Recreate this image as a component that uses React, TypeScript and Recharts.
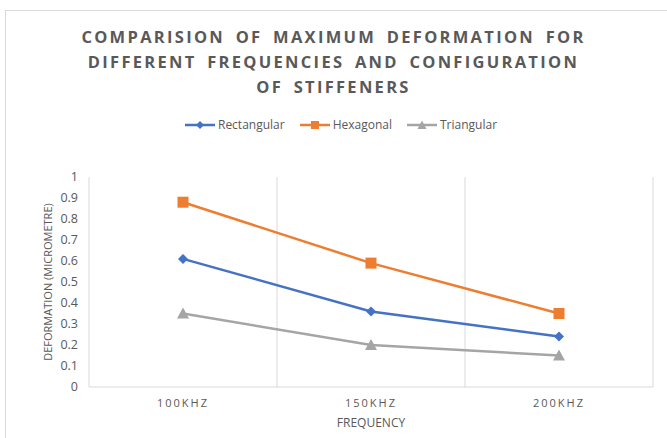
import React from 'react'
import { LineChart, Line, XAxis, YAxis, CartesianGrid } from 'recharts'

const categories = ['100KHZ', '150KHZ', '200KHZ']
const rectangular = [0.61, 0.36, 0.24]
const hexagonal = [0.88, 0.59, 0.35]
const triangular = [0.35, 0.2, 0.15]
const yTicks = [0, 0.1, 0.2, 0.3, 0.4, 0.5, 0.6, 0.7, 0.8, 0.9, 1]

const data = categories.map((name, i) => ({
  name,
  Rectangular: rectangular[i],
  Hexagonal: hexagonal[i],
  Triangular: triangular[i],
}))

const BLUE = '#4472C4'
const ORANGE = '#ED7D31'
const GRAY = '#A5A5A5'
const TEXT = '#595959'
const GRID = '#D9D9D9'
const FONT = '"Open Sans", "Liberation Sans", sans-serif'

const Diamond = ({ cx, cy }: any) =>
  cx == null ? null : (
    <path d={`M${cx},${cy - 5} L${cx + 5},${cy} L${cx},${cy + 5} L${cx - 5},${cy} Z`} fill={BLUE} />
  )

const Square = ({ cx, cy }: any) =>
  cx == null ? null : <rect x={cx - 5.5} y={cy - 5.5} width={11} height={11} fill={ORANGE} />

const Triangle = ({ cx, cy }: any) =>
  cx == null ? null : (
    <path d={`M${cx},${cy - 6} L${cx + 6},${cy + 5} L${cx - 6},${cy + 5} Z`} fill={GRAY} />
  )

// vertical gridlines on category boundaries, like Excel
const boundaryLines = ({ offset }: any) =>
  [0, 1, 2, 3].map(i => offset.left + (offset.width * i) / categories.length)

function LegendItem({ color, label, marker }: { color: string; label: string; marker: string }) {
  return (
    <span style={{ display: 'inline-flex', alignItems: 'center', marginRight: 15 }}>
      <svg width={30} height={12} style={{ marginRight: 3 }}>
        <line x1={0} y1={6} x2={30} y2={6} stroke={color} strokeWidth={2.5} />
        {marker === 'diamond' && <path d="M15,2 L19,6 L15,10 L11,6 Z" fill={color} />}
        {marker === 'square' && <rect x={11} y={2} width={8} height={8} fill={color} />}
        {marker === 'triangle' && <path d="M15,1.5 L19.5,10 L10.5,10 Z" fill={color} />}
      </svg>
      {label}
    </span>
  )
}

export default function App() {
  return (
    <div
      style={{
        position: 'absolute',
        left: 0,
        top: 0,
        width: 667,
        height: 438,
        overflow: 'hidden',
        background: '#fff',
        fontFamily: FONT,
      }}
    >
      <div
        style={{
          position: 'absolute',
          left: 5,
          top: 10,
          width: 700,
          height: 460,
          border: `1px solid ${GRID}`,
        }}
      />
      <div
        style={{
          position: 'absolute',
          left: 0,
          top: 24,
          width: 667,
          textAlign: 'center',
          color: TEXT,
          fontWeight: 700,
          fontSize: 16.5,
          letterSpacing: 2.3,
          wordSpacing: 4,
          lineHeight: '25px',
        }}
      >
        COMPARISION OF MAXIMUM DEFORMATION FOR
        <br />
        DIFFERENT FREQUENCIES AND CONFIGURATION
        <br />
        OF STIFFENERS
      </div>
      <div
        style={{
          position: 'absolute',
          left: 0,
          top: 116,
          width: 667,
          textAlign: 'center',
          color: TEXT,
          fontSize: 12,
          paddingLeft: 15,
        }}
      >
        <LegendItem color={BLUE} label="Rectangular" marker="diamond" />
        <LegendItem color={ORANGE} label="Hexagonal" marker="square" />
        <LegendItem color={GRAY} label="Triangular" marker="triangle" />
      </div>
      <div style={{ position: 'absolute', left: 0, top: 0 }}>
        <LineChart
          width={667}
          height={438}
          data={data}
          margin={{ top: 177, right: 14, bottom: 11, left: 43 }}
        >
          <CartesianGrid
            horizontal={false}
            stroke={GRID}
            strokeWidth={1}
            verticalCoordinatesGenerator={boundaryLines}
          />
          <XAxis
            dataKey="name"
            padding={{ left: 94, right: 94 }}
            height={40}
            axisLine={{ stroke: GRID }}
            tickLine={false}
            tickMargin={6}
            tick={{ fill: TEXT, fontSize: 11, letterSpacing: 2, fontFamily: FONT }}
            label={{
              value: 'FREQUENCY',
              position: 'insideBottom',
              offset: 0,
              fill: TEXT,
              fontSize: 12,
              fontFamily: FONT,
            }}
          />
          <YAxis
            domain={[0, 1]}
            ticks={yTicks}
            width={46}
            axisLine={false}
            tickLine={false}
            tickMargin={5}
            interval={0}
            tick={{ fill: TEXT, fontSize: 12.5, fontFamily: FONT }}
            label={{
              value: 'DEFORMATION (MICROMETRE)',
              angle: -90,
              position: 'insideLeft',
              offset: 5,
              fill: TEXT,
              fontSize: 11,
              fontFamily: FONT,
              style: { textAnchor: 'middle' },
            }}
          />
          <Line
            type="linear"
            dataKey="Rectangular"
            stroke={BLUE}
            strokeWidth={2.5}
            dot={<Diamond />}
            isAnimationActive={false}
          />
          <Line
            type="linear"
            dataKey="Hexagonal"
            stroke={ORANGE}
            strokeWidth={2.5}
            dot={<Square />}
            isAnimationActive={false}
          />
          <Line
            type="linear"
            dataKey="Triangular"
            stroke={GRAY}
            strokeWidth={2.5}
            dot={<Triangle />}
            isAnimationActive={false}
          />
        </LineChart>
      </div>
    </div>
  )
}
